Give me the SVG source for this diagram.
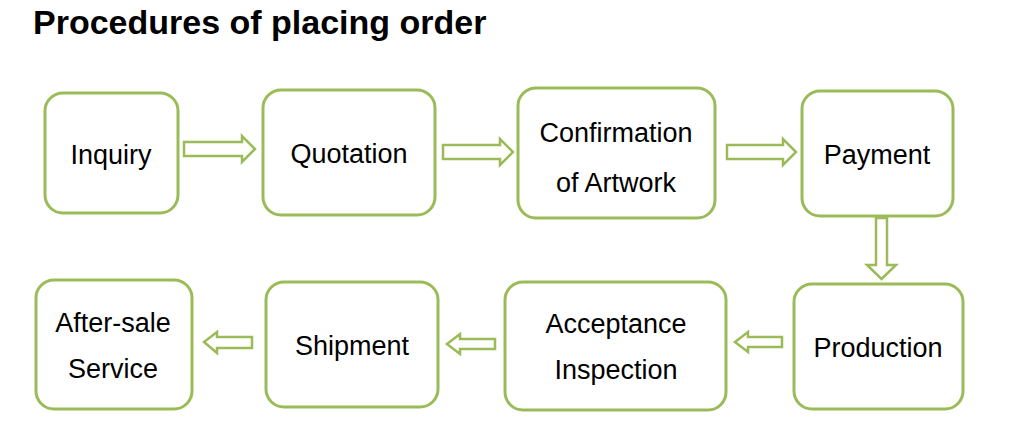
<svg xmlns="http://www.w3.org/2000/svg" width="1034" height="433" viewBox="0 0 1034 433">
<style>
.box{fill:#fff;stroke:#9bbb59;stroke-width:3}
.arr{fill:#fff;stroke:#9bbb59;stroke-width:2.5;stroke-linejoin:miter}
.lbl{font-family:"Liberation Sans",Arial,sans-serif;font-size:27px;fill:#000;text-anchor:middle}
.title{font-family:"Liberation Sans",Arial,sans-serif;font-size:34px;font-weight:bold;fill:#000}
</style>
<rect width="1034" height="433" fill="#fff"/>
<text class="title" x="33" y="34">Procedures of placing order</text>
<g id="connectors">
<path class="arr" d="M184,142 H242 V136 L255,149 L242,162 V156 H184 Z"/>
<path class="arr" d="M443,145 H500 V139 L513,152 L500,165 V159 H443 Z"/>
<path class="arr" d="M727,145 H783 V139 L796,152 L783,165 V159 H727 Z"/>
<path class="arr" d="M876,218 H887 V265 H896 L881.5,279 L867,265 H876 Z"/>
<path class="arr" d="M782,337 H748 V332 L735,342 L748,352 V347 H782 Z"/>
<path class="arr" d="M495,339 H460 V334 L447,344 L460,354 V349 H495 Z"/>
<path class="arr" d="M252,337 H217 V332 L204,342 L217,353 V348 H252 Z"/>
</g>
<g id="inquiry"><rect class="box" x="45" y="93" width="133" height="120" rx="18"/><text class="lbl" x="111" y="164">Inquiry</text></g>
<g id="quotation"><rect class="box" x="263" y="90" width="172" height="125" rx="18"/><text class="lbl" x="349" y="163">Quotation</text></g>
<g id="confirmation"><rect class="box" x="518" y="88" width="197" height="130" rx="18"/><text class="lbl" x="616" y="142">Confirmation</text><text class="lbl" x="616" y="192">of Artwork</text></g>
<g id="payment"><rect class="box" x="802" y="91" width="151" height="125" rx="18"/><text class="lbl" x="877" y="164">Payment</text></g>
<g id="production"><rect class="box" x="794" y="284" width="169" height="125" rx="18"/><text class="lbl" x="878" y="357">Production</text></g>
<g id="acceptance"><rect class="box" x="505" y="282" width="221" height="128" rx="18"/><text class="lbl" x="616" y="333">Acceptance</text><text class="lbl" x="616" y="379">Inspection</text></g>
<g id="shipment"><rect class="box" x="266" y="282" width="172" height="125" rx="18"/><text class="lbl" x="352" y="355">Shipment</text></g>
<g id="aftersale"><rect class="box" x="36" y="280" width="156" height="129" rx="18"/><text class="lbl" x="113" y="332">After-sale</text><text class="lbl" x="113" y="378">Service</text></g>
</svg>
